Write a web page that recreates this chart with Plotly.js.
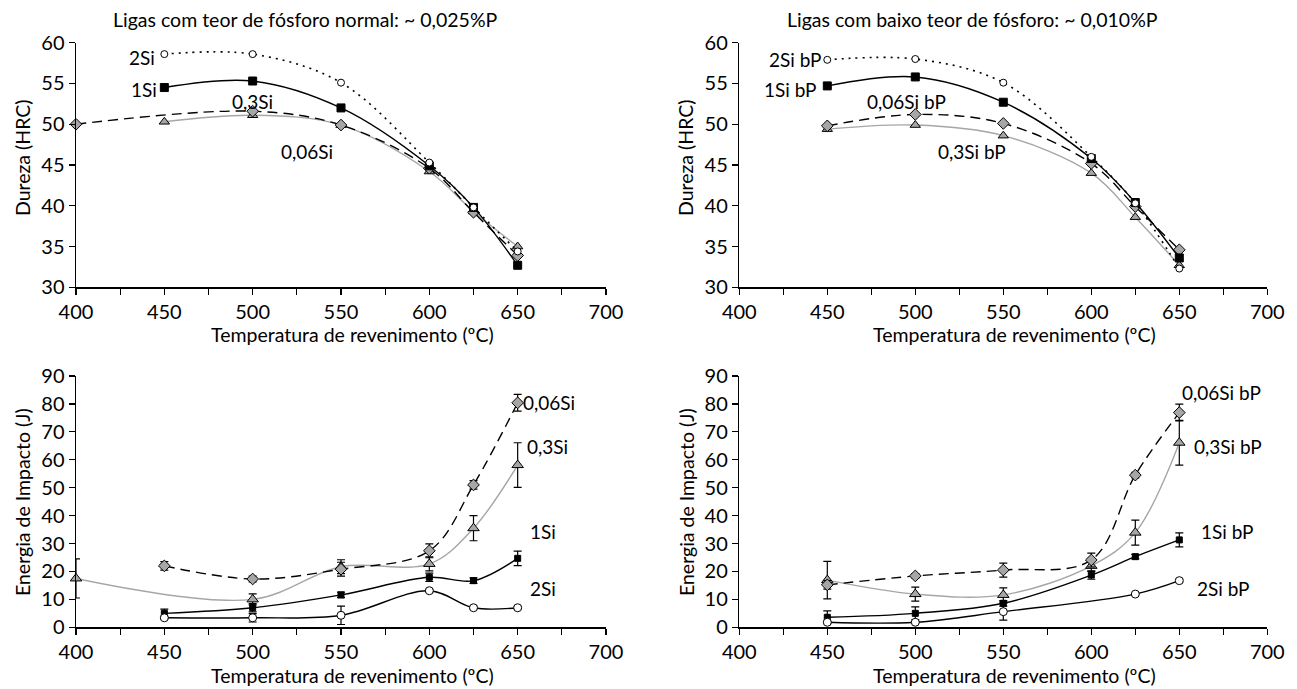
<!DOCTYPE html>
<html>
<head>
<meta charset="utf-8">
<script src="https://cdn.plot.ly/plotly-3.0.1.min.js"></script>
<style>html,body{margin:0;padding:0;background:#fff;}#chart{width:1297px;height:689px;}</style>
</head>
<body>
<div id="chart"></div>
<script>
// ---------- DATA ----------
// Hardness, normal phosphorus (~0.025%P)
const hrcN_2Si_x = [450, 500, 550, 600, 625, 650];
const hrcN_2Si   = [58.6, 58.6, 55.1, 45.3, 39.8, 34.4];
const hrcN_1Si_x = [450, 500, 550, 600, 625, 650];
const hrcN_1Si   = [54.5, 55.3, 52.0, 44.9, 39.8, 32.7];
const hrcN_006Si_x = [400, 500, 550, 600, 625, 650];
const hrcN_006Si   = [50.0, 51.6, 49.9, 44.6, 39.2, 33.9];
const hrcN_03Si_x = [450, 500, 550, 600, 625, 650];
const hrcN_03Si   = [50.3, 51.1, 49.9, 44.2, 39.3, 35.0];

// Hardness, low phosphorus (~0.010%P)
const hrcL_x = [450, 500, 550, 600, 625, 650];
const hrcL_2Si   = [57.9, 58.0, 55.1, 46.0, 40.3, 32.3];
const hrcL_1Si   = [54.7, 55.8, 52.7, 45.8, 40.4, 33.6];
const hrcL_006Si = [49.8, 51.2, 50.1, 45.2, 39.9, 34.6];
const hrcL_03Si  = [49.4, 49.9, 48.6, 44.0, 38.6, 32.7];

// Impact energy, normal phosphorus
const impN_006Si_x = [450, 500, 550, 600, 625, 650];
const impN_006Si   = [22.0, 17.3, 20.8, 27.4, 51.0, 80.4];
const impN_006Si_e = [1.5, 1.0, 2.5, 2.5, 1.5, 3.0];
const impN_03Si_x  = [400, 500, 550, 600, 625, 650];
const impN_03Si    = [17.5, 10.0, 21.7, 22.7, 35.5, 58.1];
const impN_03Si_e  = [7.0, 2.0, 2.5, 2.5, 4.5, 8.0];
const impN_1Si_x   = [450, 500, 550, 600, 625, 650];
const impN_1Si     = [5.0, 7.0, 11.6, 17.9, 16.7, 24.7];
const impN_1Si_e   = [1.5, 1.5, 1.0, 1.5, 1.0, 2.6];
const impN_2Si_x   = [450, 500, 550, 600, 625, 650];
const impN_2Si     = [3.4, 3.4, 4.3, 13.1, 7.0, 7.0];
const impN_2Si_e   = [0.5, 1.5, 3.3, 0.5, 0.5, 0.5];

// Impact energy, low phosphorus
const impL_x = [450, 500, 550, 600, 625, 650];
const impL_006Si   = [15.2, 18.4, 20.5, 24.1, 54.5, 76.9];
const impL_006Si_e = [1.5, 0.8, 2.5, 2.5, 1.0, 3.0];
const impL_03Si    = [16.9, 11.9, 11.6, 22.0, 33.9, 66.1];
const impL_03Si_e  = [6.7, 2.5, 2.5, 2.0, 4.5, 8.0];
const impL_1Si     = [3.6, 5.0, 8.6, 18.7, 25.3, 31.3];
const impL_1Si_e   = [2.3, 2.3, 1.0, 1.5, 0.8, 2.5];
const impL_2Si_x   = [450, 500, 550, 625, 650];
const impL_2Si     = [1.8, 1.8, 5.6, 11.9, 16.7];
const impL_2Si_e   = [0.3, 0.3, 3.0, 0.3, 0.5];

// Labels
const titleNormal = 'Ligas com teor de fósforo normal: ~ 0,025%P';
const titleLow = 'Ligas com baixo teor de fósforo: ~ 0,010%P';
const xTitle = 'Temperatura de revenimento (ºC)';
const yTitleHRC = 'Dureza (HRC)';
const yTitleImp = 'Energia de Impacto (J)';

// ---------- STYLES ----------
const GRAY = '#a6a6a6';
const FONT = 'Lato, "Open Sans", sans-serif';
const styles = {
  s2Si:   {line:{color:'#000', width:1.6, dash:'2px,5px'}, marker:{symbol:'circle', size:7, color:'#fff', line:{color:'#000', width:1}}},
  s1Si:   {line:{color:'#000', width:1.4}, marker:{symbol:'square', size:8, color:'#000', line:{color:'#000', width:1}}},
  s006Si: {line:{color:'#000', width:1.4, dash:'10px,6px'}, marker:{symbol:'diamond', size:9, color:GRAY, line:{color:'#000', width:1}}},
  s03Si:  {line:{color:GRAY, width:1.4}, marker:{symbol:'triangle-up', size:9, color:GRAY, line:{color:'#000', width:1}}}
};
const impMarker = {
  s2Si: {symbol:'circle', size:8, color:'#fff', line:{color:'#000', width:1}},
  s1Si: {symbol:'square', size:6, color:'#000', line:{color:'#000', width:1}},
  s006Si: {symbol:'diamond', size:9, color:GRAY, line:{color:'#000', width:1}},
  s03Si: {symbol:'triangle-up', size:10, color:GRAY, line:{color:'#000', width:1}}
};

function tr(x, y, st, xa, ya, err, mk) {
  const t = {
    type:'scatter', mode:'lines+markers', x:x, y:y,
    xaxis:xa, yaxis:ya,
    line:Object.assign({shape:'spline', smoothing:1}, st.line),
    marker:mk || st.marker,
    cliponaxis:false, showlegend:false, hoverinfo:'x+y'
  };
  if (err) t.error_y = {type:'data', array:err, visible:true, color:'#000', thickness:1.2, width:4};
  return t;
}

const data = [
  // top-left
  tr(hrcN_03Si_x, hrcN_03Si, styles.s03Si, 'x', 'y'),
  tr(hrcN_006Si_x, hrcN_006Si, styles.s006Si, 'x', 'y'),
  tr(hrcN_1Si_x, hrcN_1Si, styles.s1Si, 'x', 'y'),
  tr(hrcN_2Si_x, hrcN_2Si, styles.s2Si, 'x', 'y'),
  // top-right
  tr(hrcL_x, hrcL_03Si, styles.s03Si, 'x2', 'y2'),
  tr(hrcL_x, hrcL_006Si, styles.s006Si, 'x2', 'y2'),
  tr(hrcL_x, hrcL_1Si, styles.s1Si, 'x2', 'y2'),
  tr(hrcL_x, hrcL_2Si, styles.s2Si, 'x2', 'y2'),
  // bottom-left
  tr(impN_03Si_x, impN_03Si, styles.s03Si, 'x3', 'y3', impN_03Si_e, impMarker.s03Si),
  tr(impN_006Si_x, impN_006Si, styles.s006Si, 'x3', 'y3', impN_006Si_e, impMarker.s006Si),
  tr(impN_1Si_x, impN_1Si, styles.s1Si, 'x3', 'y3', impN_1Si_e, impMarker.s1Si),
  tr(impN_2Si_x, impN_2Si, {line:{color:'#000', width:1.4}}, 'x3', 'y3', impN_2Si_e, impMarker.s2Si),
  // bottom-right
  tr(impL_x, impL_03Si, styles.s03Si, 'x4', 'y4', impL_03Si_e, impMarker.s03Si),
  tr(impL_x, impL_006Si, styles.s006Si, 'x4', 'y4', impL_006Si_e, impMarker.s006Si),
  tr(impL_x, impL_1Si, styles.s1Si, 'x4', 'y4', impL_1Si_e, impMarker.s1Si),
  tr(impL_2Si_x, impL_2Si, {line:{color:'#000', width:1.4}}, 'x4', 'y4', impL_2Si_e, impMarker.s2Si)
];

const W = 1297, H = 689;
const dxL = [76/W, 606/W], dxR = [739.3/W, 1267.3/W];
const dyT = [1-287.3/H, 1-42.7/H], dyB = [1-627.3/H, 1-376/H];
const TICKSZ = 20, TITLESZ = 19.5, LABSZ = 19;

function xax(domain, anchor) {
  return {
    domain:domain, anchor:anchor, range:[400,700], dtick:50, tick0:400,
    showline:true, linecolor:'#000', linewidth:1.5, ticks:'outside', ticklen:6, tickwidth:1.3, tickcolor:'#000',
    minor:{dtick:25, tick0:400, ticks:'outside', ticklen:6, tickwidth:1.3, tickcolor:'#000', showgrid:false},
    showgrid:false, zeroline:false, fixedrange:true,
    tickfont:{family:FONT, size:TICKSZ, color:'#000'}
  };
}
function yax(domain, anchor, range, dtick) {
  return {
    domain:domain, anchor:anchor, range:range, dtick:dtick, tick0:range[0],
    showline:true, linecolor:'#000', linewidth:1.5, ticks:'outside', ticklen:6, tickwidth:1.3, tickcolor:'#000',
    showgrid:false, zeroline:false, fixedrange:true,
    tickfont:{family:FONT, size:TICKSZ, color:'#000'}
  };
}

const titleFont = {family:FONT, size:TITLESZ, color:'#000'};
const annFont = {family:FONT, size:LABSZ, color:'#000'};
function lab(x, y, text, xref, yref, anchor) {
  return {x:x, y:y, xref:xref, yref:yref, text:text, showarrow:false, font:annFont, xanchor:anchor||'center', yanchor:'middle'};
}
function ptxt(px, py, text, angle) {
  return {x:px/W, y:1-py/H, xref:'paper', yref:'paper', text:text, showarrow:false, font:titleFont,
          xanchor:'center', yanchor:'middle', textangle:angle||0};
}
const annotations = [
  ptxt(305, 20, titleNormal),
  ptxt(972, 20, titleLow),
  // axis titles
  ptxt(352, 334, xTitle), ptxt(1014, 334, xTitle),
  ptxt(352, 675, xTitle), ptxt(1014, 675, xTitle),
  ptxt(22, 158, yTitleHRC, -90), ptxt(685, 158, yTitleHRC, -90),
  ptxt(22, 502, yTitleImp, -90), ptxt(686, 502, yTitleImp, -90),
  // top-left labels
  lab(446, 58.2, '2Si', 'x', 'y', 'right'),
  lab(447, 54.3, '1Si', 'x', 'y', 'right'),
  lab(500, 52.8, '0,3Si', 'x', 'y', 'center'),
  lab(531, 46.6, '0,06Si', 'x', 'y', 'center'),
  // top-right labels
  lab(447.5, 58.0, '2Si bP', 'x2', 'y2', 'right'),
  lab(445, 54.3, '1Si bP', 'x2', 'y2', 'right'),
  lab(495, 52.8, '0,06Si bP', 'x2', 'y2', 'center'),
  lab(532, 46.6, '0,3Si bP', 'x2', 'y2', 'center'),
  // bottom-left labels
  lab(652, 80.4, '0,06Si', 'x3', 'y3', 'left'),
  lab(654, 64.7, '0,3Si', 'x3', 'y3', 'left'),
  lab(656, 34.3, '1Si', 'x3', 'y3', 'left'),
  lab(656, 13.9, '2Si', 'x3', 'y3', 'left'),
  // bottom-right labels
  lab(650.5, 84.0, '0,06Si bP', 'x4', 'y4', 'left'),
  lab(657, 64.7, '0,3Si bP', 'x4', 'y4', 'left'),
  lab(661, 34.3, '1Si bP', 'x4', 'y4', 'left'),
  lab(659, 14.0, '2Si bP', 'x4', 'y4', 'left')
];

const layout = {
  width:W, height:H, margin:{l:0, r:0, t:0, b:0},
  paper_bgcolor:'#fff', plot_bgcolor:'#fff',
  font:{family:FONT, color:'#000'},
  showlegend:false,
  xaxis: xax(dxL, 'y'), yaxis: yax(dyT, 'x', [30,60], 5),
  xaxis2: xax(dxR, 'y2'), yaxis2: yax(dyT, 'x2', [30,60], 5),
  xaxis3: xax(dxL, 'y3'), yaxis3: yax(dyB, 'x3', [0,90], 10),
  xaxis4: xax(dxR, 'y4'), yaxis4: yax(dyB, 'x4', [0,90], 10),
  annotations:annotations
};

Plotly.newPlot('chart', data, layout, {staticPlot:true, displayModeBar:false});
</script>
</body>
</html>
